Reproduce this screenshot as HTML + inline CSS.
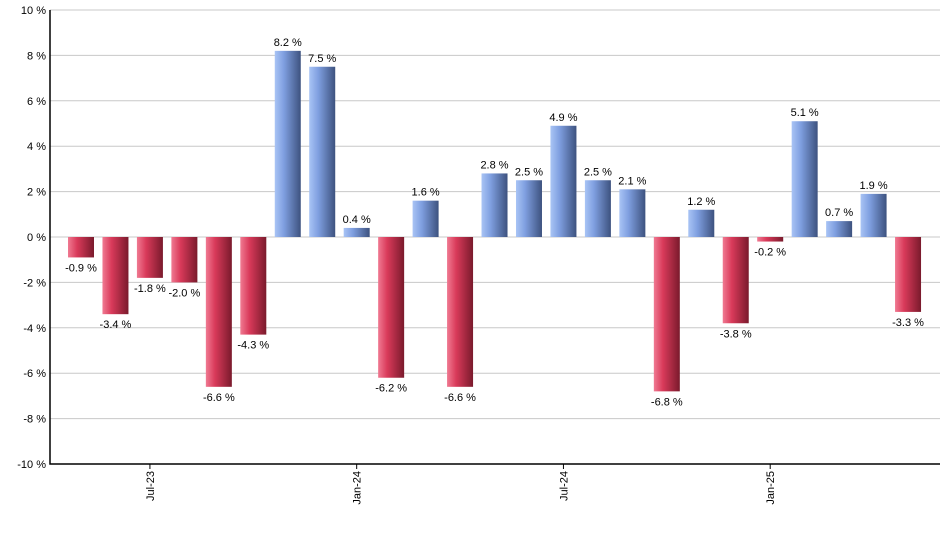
<!DOCTYPE html>
<html><head><meta charset="utf-8"><style>
body{margin:0;background:#fff}
svg{font-family:"Liberation Sans",Arial,sans-serif;display:block}
</style></head><body>
<svg id="chart" width="940" height="550">
<defs>
<linearGradient id="gb" x1="0" x2="1" y1="0" y2="0"><stop offset="0" stop-color="#a9c4f5"/><stop offset="0.35" stop-color="#7f9fe0"/><stop offset="1" stop-color="#3d527f"/></linearGradient>
<linearGradient id="gr" x1="0" x2="1" y1="0" y2="0"><stop offset="0" stop-color="#f07a92"/><stop offset="0.35" stop-color="#d93a5a"/><stop offset="1" stop-color="#7a1a2c"/></linearGradient>
</defs>
<g id="grid"></g><g id="bars"></g><g id="axes"></g>
</svg>
<script>
const values=[-0.9,-3.4,-1.8,-2.0,-6.6,-4.3,8.2,7.5,0.4,-6.2,1.6,-6.6,2.8,2.5,4.9,2.5,2.1,-6.8,1.2,-3.8,-0.2,5.1,0.7,1.9,-3.3];
const yTicks=[-10,-8,-6,-4,-2,0,2,4,6,8,10];
const xLabels=["Jul-23","Jan-24","Jul-24","Jan-25"];
const xLabelIdx=[2,8,14,20];
const NS="http://www.w3.org/2000/svg";
const L=50,R=940,T=10,B=464;
const y=v=>T+(10-v)/20*(B-T);
const step=34.46, x0=81;
const x=i=>x0+i*step;
function mk(p,t,a){const e=document.createElementNS(NS,t);for(const k in a)e.setAttribute(k,a[k]);p.appendChild(e);return e;}
const grid=document.getElementById('grid'),bars=document.getElementById('bars'),axes=document.getElementById('axes');
yTicks.forEach(v=>{
 const l=mk(grid,'line',{x1:L,x2:R,y1:y(v),y2:y(v),stroke:'#c8c8c8','stroke-width':1});
 
 
 const t=mk(axes,'text',{x:L-4,y:y(v)+4,'text-anchor':'end','font-size':11,fill:'#000'});
 t.textContent=v+' %';
 
 
});
values.forEach((v,i)=>{
 const top=Math.min(y(v),y(0)),h=Math.abs(y(v)-y(0));
 const r=mk(bars,'rect',{x:x(i)-13,y:top,width:26,height:h,fill:v>=0?'url(#gb)':'url(#gr)'});
 
 
 const t=mk(bars,'text',{x:x(i),y:v>=0?y(v)-5:y(v)+14,'text-anchor':'middle','font-size':11,fill:'#000'});
 t.textContent=v.toFixed(1)+' %';
 
 
});
const ax=mk(axes,'path',{d:`M${L} ${T}V${B}H${R}`,stroke:'#000','stroke-width':1.5,fill:'none'});


xLabels.forEach((s,k)=>{
 const xx=x(xLabelIdx[k]);
 const tk=mk(axes,'line',{x1:xx,x2:xx,y1:B,y2:B+5,stroke:'#000','stroke-width':1});
 
 
 const t=mk(axes,'text',{x:0,y:0,'text-anchor':'end','font-size':11,fill:'#000',transform:`translate(${xx+4},${B+7}) rotate(-90)`});
 t.textContent=s;
 
 
});
</script>
</body></html>
